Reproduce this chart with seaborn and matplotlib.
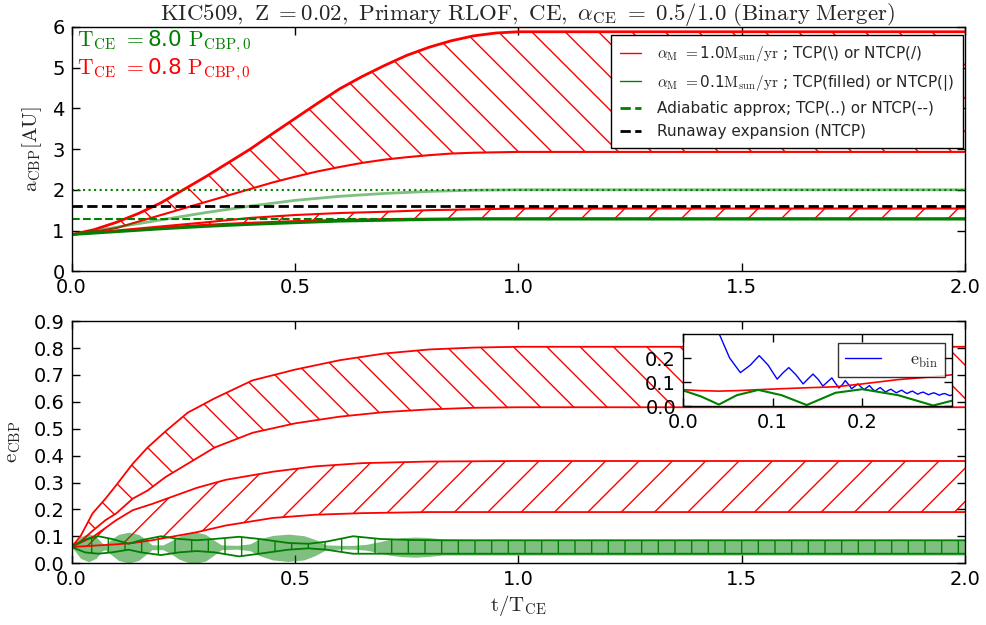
import matplotlib
matplotlib.use("Agg")
import matplotlib.pyplot as plt
from matplotlib.lines import Line2D
import seaborn as sns

# ------------------------------------------------------------------
# Top panel: semi-major axis of the circumbinary planet, a_CBP [AU]
# ------------------------------------------------------------------
t_a = [0, 0.05, 0.1, 0.15, 0.2, 0.25, 0.3, 0.35, 0.4, 0.45, 0.5, 0.55,
       0.6, 0.65, 0.7, 0.75, 0.8, 0.85, 0.9, 0.95, 1.0, 2.0]
# fast mass loss (1.0 Msun/yr), TCP band
a_fast_tcp_hi = [0.9, 1.02, 1.2, 1.42, 1.68, 2.0, 2.32, 2.66, 3.0, 3.38, 3.75, 4.12,
                 4.48, 4.78, 5.05, 5.3, 5.5, 5.66, 5.78, 5.85, 5.88, 5.88]
a_fast_tcp_lo = [0.9, 0.97, 1.06, 1.22, 1.38, 1.54, 1.7, 1.86, 2.02, 2.18, 2.32, 2.45,
                 2.56, 2.66, 2.74, 2.8, 2.85, 2.89, 2.91, 2.92, 2.93, 2.93]

t_b = [0, 0.1, 0.2, 0.3, 0.4, 0.5, 0.6, 0.7, 0.8, 0.9, 1.0, 2.0]
# fast mass loss, NTCP band
a_fast_ntcp_hi = [0.9, 1.0, 1.1, 1.2, 1.31, 1.38, 1.43, 1.46, 1.5, 1.52, 1.54, 1.54]
a_fast_ntcp_lo = [0.9, 0.99, 1.07, 1.14, 1.19, 1.23, 1.26, 1.28, 1.29, 1.3, 1.3, 1.3]
# slow mass loss (0.1 Msun/yr)
a_slow_tcp = [0.9, 1.08, 1.26, 1.44, 1.6, 1.74, 1.84, 1.91, 1.96, 1.99, 2.0, 2.0]
a_slow_ntcp = [0.9, 0.97, 1.04, 1.1, 1.15, 1.19, 1.23, 1.25, 1.27, 1.28, 1.28, 1.28]

a_adiab_tcp = 2.0
a_adiab_ntcp = 1.28
a_runaway = 1.6

# ------------------------------------------------------------------
# Bottom panel: eccentricity of the circumbinary planet, e_CBP
# ------------------------------------------------------------------
t_e1 = [0, 0.02, 0.047, 0.076, 0.1, 0.137, 0.17, 0.21, 0.26, 0.32, 0.405, 0.5,
        0.6, 0.7, 0.8, 0.9, 1.0, 2.0]
e_fast_tcp_hi = [0.06, 0.1, 0.185, 0.24, 0.29, 0.37, 0.43, 0.49, 0.56, 0.613, 0.68, 0.72,
                 0.755, 0.78, 0.795, 0.802, 0.805, 0.805]
e_fast_tcp_lo = [0.06, 0.08, 0.12, 0.16, 0.185, 0.24, 0.27, 0.32, 0.37, 0.43, 0.485, 0.52,
                 0.545, 0.562, 0.572, 0.578, 0.58, 0.58]

t_e2 = [0, 0.05, 0.1, 0.137, 0.18, 0.23, 0.28, 0.345, 0.45, 0.545, 0.65, 0.8, 1.0, 2.0]
e_fast_ntcp_hi = [0.06, 0.1, 0.16, 0.197, 0.22, 0.25, 0.28, 0.31, 0.34, 0.36, 0.372, 0.378,
                  0.38, 0.38]
e_fast_ntcp_lo = [0.06, 0.065, 0.07, 0.075, 0.085, 0.1, 0.115, 0.14, 0.168, 0.18, 0.186,
                  0.19, 0.19, 0.19]

# slow mass loss, TCP (filled band)
t_e3 = [0, 0.01, 0.02, 0.038, 0.055, 0.068, 0.075, 0.09, 0.105, 0.128,
        0.15, 0.165, 0.18, 0.205, 0.225, 0.24, 0.26, 0.28, 0.30, 0.315,
        0.335, 0.37, 0.40, 0.42, 0.45, 0.485, 0.52, 0.545, 0.57, 0.6,
        0.63, 0.66, 0.69, 0.71, 0.74, 0.77, 0.8, 0.83, 0.9, 1.0, 2.0]
e_slow_tcp_hi = [0.06, 0.08, 0.098, 0.11, 0.098, 0.075, 0.068, 0.09, 0.107, 0.115,
                 0.107, 0.09, 0.068, 0.068, 0.085, 0.1, 0.112, 0.115, 0.107, 0.09,
                 0.068, 0.066, 0.072, 0.09, 0.103, 0.108, 0.102, 0.088, 0.068, 0.066,
                 0.066, 0.07, 0.08, 0.088, 0.095, 0.097, 0.095, 0.09, 0.088, 0.088, 0.088]
e_slow_tcp_lo = [0.06, 0.04, 0.018, 0.005, 0.018, 0.045, 0.05, 0.03, 0.01, 0.0,
                 0.01, 0.03, 0.05, 0.05, 0.032, 0.015, 0.003, 0.0, 0.008, 0.025,
                 0.05, 0.052, 0.046, 0.028, 0.012, 0.006, 0.012, 0.028, 0.05, 0.052,
                 0.052, 0.048, 0.038, 0.03, 0.024, 0.022, 0.025, 0.03, 0.03, 0.03, 0.03]

# slow mass loss, NTCP (vertically hatched band)
t_e4 = [0, 0.03, 0.06, 0.09, 0.128, 0.155, 0.2, 0.24, 0.28, 0.32, 0.375, 0.42, 0.485,
        0.53, 0.57, 0.63, 0.69, 0.76, 0.83, 0.9, 1.0, 2.0]
e_slow_ntcp_hi = [0.06, 0.088, 0.1, 0.09, 0.072, 0.085, 0.1, 0.09, 0.085, 0.09, 0.098,
                  0.09, 0.075, 0.072, 0.08, 0.1, 0.09, 0.086, 0.085, 0.085, 0.085, 0.085]
e_slow_ntcp_lo = [0.06, 0.04, 0.035, 0.04, 0.05, 0.04, 0.03, 0.04, 0.045, 0.04, 0.025,
                  0.035, 0.05, 0.055, 0.05, 0.035, 0.035, 0.035, 0.035, 0.035, 0.035, 0.035]

# ------------------------------------------------------------------
# Inset: early evolution, including the binary eccentricity e_bin
# ------------------------------------------------------------------
t_bin = [0, 0.005, 0.012, 0.02, 0.03, 0.041, 0.052, 0.064, 0.075, 0.085, 0.095, 0.105,
         0.112, 0.118, 0.126, 0.134, 0.14, 0.145, 0.151, 0.156, 0.161, 0.166, 0.17,
         0.174, 0.178, 0.181, 0.185, 0.188, 0.192, 0.195, 0.199, 0.202, 0.205, 0.208,
         0.211, 0.214, 0.217, 0.22, 0.223, 0.226, 0.229, 0.232, 0.235, 0.238, 0.241,
         0.244, 0.247, 0.25, 0.253, 0.256, 0.259, 0.262, 0.265, 0.268, 0.271, 0.274,
         0.277, 0.28, 0.283, 0.286, 0.289, 0.292, 0.295, 0.298, 0.3]
e_bin = [0.29, 0.33, 0.36, 0.37, 0.35, 0.295, 0.2, 0.139, 0.17, 0.21, 0.17, 0.112,
         0.14, 0.16, 0.13, 0.092, 0.115, 0.133, 0.11, 0.083, 0.1, 0.117, 0.095,
         0.075, 0.09, 0.106, 0.088, 0.072, 0.083, 0.092, 0.078, 0.068, 0.077, 0.085,
         0.072, 0.062, 0.07, 0.077, 0.067, 0.058, 0.065, 0.07, 0.062, 0.055, 0.061,
         0.066, 0.058, 0.052, 0.058, 0.062, 0.055, 0.049, 0.055, 0.058, 0.052, 0.047,
         0.052, 0.055, 0.05, 0.045, 0.05, 0.052, 0.047, 0.043, 0.046]
t_in = [0, 0.02, 0.04, 0.06, 0.084, 0.11, 0.138, 0.17, 0.2, 0.24, 0.279, 0.3]
e_in_fast = [0.068, 0.064, 0.062, 0.064, 0.068, 0.072, 0.076, 0.08, 0.092, 0.11, 0.122, 0.13]
e_in_slow = [0.065, 0.04, 0.006, 0.045, 0.067, 0.045, 0.004, 0.055, 0.07, 0.045, 0.002, 0.022]

x_ticks = [0.0, 0.5, 1.0, 1.5, 2.0]
a_ticks = [0, 1, 2, 3, 4, 5, 6]
e_ticks = [0.0, 0.1, 0.2, 0.3, 0.4, 0.5, 0.6, 0.7, 0.8, 0.9]

RED = "#ff0000"
GREEN = "#008000"
BLUE = "#0000ff"

sns.set_style("ticks")
plt.rcParams["font.family"] = ["DejaVu Sans"]
plt.rcParams["mathtext.fontset"] = "cm"
plt.rcParams["hatch.linewidth"] = 1.0
plt.rcParams["axes.edgecolor"] = "black"
plt.rcParams["axes.linewidth"] = 1.0


def line(ax, x, y, **kw):
    sns.lineplot(x=x, y=y, ax=ax, estimator=None, sort=False, legend=False, **kw)


def style_axes(ax, labelsize=14):
    ax.tick_params(direction="in", top=True, right=True, length=6, width=1,
                   labelsize=labelsize, colors="black", pad=5)
    for s in ax.spines.values():
        s.set_visible(True)
        s.set_color("black")
        s.set_linewidth(1.0)


fig = plt.figure(figsize=(9.87, 6.25), dpi=100)
ax1 = fig.add_axes([0.0725, 0.566, 0.9055, 0.391])
ax2 = fig.add_axes([0.0725, 0.099, 0.9055, 0.387])

# ---------------- top panel ----------------
ax1.fill_between(t_a, a_fast_tcp_lo, a_fast_tcp_hi, facecolor="none", edgecolor=RED,
                 hatch="\\", linewidth=0)
ax1.fill_between(t_b, a_fast_ntcp_lo, a_fast_ntcp_hi, facecolor="none", edgecolor=RED,
                 hatch="/", linewidth=0)
line(ax1, t_a, a_fast_tcp_hi, color=RED, linewidth=2.0)
line(ax1, t_a, a_fast_tcp_lo, color=RED, linewidth=1.5)
line(ax1, t_b, a_fast_ntcp_hi, color=RED, linewidth=1.5)
line(ax1, t_b, a_fast_ntcp_lo, color=RED, linewidth=1.5)
line(ax1, t_b, a_slow_tcp, color=GREEN, linewidth=2.0, alpha=0.5)
line(ax1, t_b, a_slow_ntcp, color=GREEN, linewidth=2.0)
ax1.axhline(a_adiab_tcp, color=GREEN, linestyle=":", linewidth=1.5)
ax1.axhline(a_adiab_ntcp, color=GREEN, linestyle="--", linewidth=1.5)
ax1.axhline(a_runaway, color="black", linestyle="--", linewidth=2.0)

ax1.set_xlim(0, 2)
ax1.set_ylim(0, 6)
ax1.set_xticks(x_ticks)
ax1.set_xticklabels([f"{v:.1f}" for v in x_ticks])
ax1.set_yticks(a_ticks)
ax1.set_ylabel(r"$\mathrm{a_{CBP}[AU]}$", fontsize=15, labelpad=6)
ax1.set_xlabel("")
style_axes(ax1)
ax1.set_title(r"$\mathrm{KIC509,\ Z\ {=}0.02,\ Primary\ RLOF,\ CE,\ \alpha_{CE}\ =\ 0.5/1.0\ (Binary\ Merger)}$",
              fontsize=16.5, pad=5, x=0.51)

ax1.text(0.006, 0.94, r"$\mathrm{T_{CE}}$ $=$8.0 $\mathrm{P_{CBP,0}}$", color=GREEN,
         fontsize=15.5, transform=ax1.transAxes, va="center", ha="left")
ax1.text(0.006, 0.825, r"$\mathrm{T_{CE}}$ $=$0.8 $\mathrm{P_{CBP,0}}$", color=RED,
         fontsize=15.5, transform=ax1.transAxes, va="center", ha="left")

handles = [
    Line2D([], [], color=RED, linewidth=1.0),
    Line2D([], [], color=GREEN, linewidth=1.0),
    Line2D([], [], color=GREEN, linewidth=2.0, linestyle="--"),
    Line2D([], [], color="black", linewidth=2.0, linestyle="--"),
]
labels = [
    r"$\alpha_{\rm M}$ $=$1.0$\rm M_{sun}/yr$ ; TCP(\) or NTCP(/)",
    r"$\alpha_{\rm M}$ $=$0.1$\rm M_{sun}/yr$ ; TCP(filled) or NTCP(|)",
    "Adiabatic approx; TCP(..) or NTCP(--)",
    "Runaway expansion (NTCP)",
]
leg = ax1.legend(handles, labels, loc="upper right", bbox_to_anchor=(0.997, 0.967),
                 borderaxespad=0, fontsize=11, frameon=True, fancybox=False,
                 handlelength=1.4, handletextpad=1.0, labelspacing=0.55, borderpad=0.6)
leg.get_frame().set_edgecolor("black")
leg.get_frame().set_linewidth(1.0)
leg.get_frame().set_alpha(1.0)

# ---------------- bottom panel ----------------
ax2.fill_between(t_e1, e_fast_tcp_lo, e_fast_tcp_hi, facecolor="none", edgecolor=RED,
                 hatch="\\", linewidth=0)
ax2.fill_between(t_e2, e_fast_ntcp_lo, e_fast_ntcp_hi, facecolor="none", edgecolor=RED,
                 hatch="/", linewidth=0)
line(ax2, t_e1, e_fast_tcp_hi, color=RED, linewidth=1.3)
line(ax2, t_e1, e_fast_tcp_lo, color=RED, linewidth=1.3)
line(ax2, t_e2, e_fast_ntcp_hi, color=RED, linewidth=1.3)
line(ax2, t_e2, e_fast_ntcp_lo, color=RED, linewidth=1.3)

ax2.fill_between(t_e3, e_slow_tcp_lo, e_slow_tcp_hi, facecolor=GREEN, alpha=0.5, linewidth=0)
ax2.fill_between(t_e4, e_slow_ntcp_lo, e_slow_ntcp_hi, facecolor="none", edgecolor=GREEN,
                 hatch="|", linewidth=0)
line(ax2, t_e4, e_slow_ntcp_hi, color=GREEN, linewidth=1.3)
line(ax2, t_e4, e_slow_ntcp_lo, color=GREEN, linewidth=1.3)

ax2.set_xlim(0, 2)
ax2.set_ylim(0, 0.9)
ax2.set_xticks(x_ticks)
ax2.set_xticklabels([f"{v:.1f}" for v in x_ticks])
ax2.set_yticks(e_ticks)
ax2.set_yticklabels([f"{v:.1f}" for v in e_ticks])
ax2.set_xlabel(r"$\mathrm{t/T_{CE}}$", fontsize=15, labelpad=3)
ax2.set_ylabel(r"$\mathrm{e_{CBP}}$", fontsize=15, labelpad=8)
style_axes(ax2)

# ---------------- inset ----------------
ax3 = fig.add_axes([0.692, 0.3504, 0.2725, 0.1152])
ax3.set_facecolor("white")
line(ax3, t_bin, e_bin, color=BLUE, linewidth=1.0)
line(ax3, t_in, e_in_fast, color=RED, linewidth=1.2)
line(ax3, t_in, e_in_slow, color=GREEN, linewidth=1.5)
ax3.set_xlim(0, 0.3)
ax3.set_ylim(0, 0.3)
ax3.set_xticks([0.0, 0.1, 0.2])
ax3.set_xticklabels(["0.0", "0.1", "0.2"])
ax3.set_yticks([0.0, 0.1, 0.2])
ax3.set_yticklabels(["0.0", "0.1", "0.2"])
ax3.set_xlabel("")
ax3.set_ylabel("")
style_axes(ax3)
ileg = ax3.legend(handles=[Line2D([], [], color=BLUE, linewidth=1.0)],
                  labels=[r"$\mathrm{e_{bin}}$"], loc="upper right",
                  bbox_to_anchor=(0.975, 0.87), borderaxespad=0, fontsize=13,
                  frameon=True, fancybox=False, handlelength=2.0, handletextpad=1.6,
                  borderpad=0.4)
ileg.get_frame().set_edgecolor("black")
ileg.get_frame().set_linewidth(1.0)

fig.savefig("out.png", dpi=100)
